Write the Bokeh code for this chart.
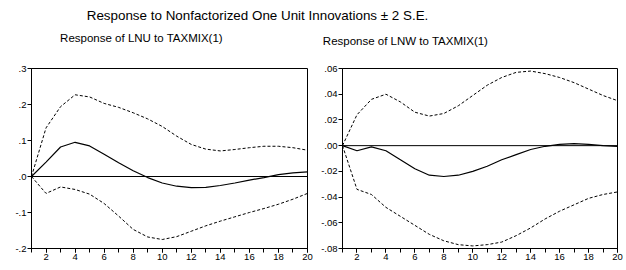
from bokeh.plotting import figure
from bokeh.layouts import column, row
from bokeh.models import Range1d, FixedTicker, Span
from bokeh.core.properties import value
from bokeh.embed import file_html
from bokeh.resources import INLINE

periods = list(range(1, 21))

lnu_resp = [0.0, 0.040, 0.082, 0.095, 0.085, 0.062, 0.038, 0.016, -0.003, -0.018,
            -0.027, -0.031, -0.030, -0.025, -0.018, -0.010, -0.003, 0.005, 0.010, 0.013]
lnu_upper = [0.0, 0.135, 0.194, 0.227, 0.221, 0.203, 0.192, 0.177, 0.160, 0.139,
             0.112, 0.089, 0.076, 0.071, 0.075, 0.080, 0.084, 0.084, 0.080, 0.073]
lnu_lower = [0.0, -0.047, -0.029, -0.036, -0.049, -0.075, -0.110, -0.147, -0.168, -0.175,
             -0.167, -0.152, -0.137, -0.124, -0.112, -0.100, -0.089, -0.077, -0.063, -0.047]

lnw_resp = [0.0, -0.004, -0.001, -0.004, -0.011, -0.018, -0.023, -0.024, -0.023, -0.020,
            -0.016, -0.011, -0.007, -0.003, -0.0005, 0.001, 0.0015, 0.001, 0.0, -0.0005]
lnw_upper = [0.0, 0.024, 0.036, 0.040, 0.034, 0.026, 0.023, 0.025, 0.031, 0.039,
             0.047, 0.053, 0.057, 0.058, 0.056, 0.053, 0.049, 0.044, 0.039, 0.035]
lnw_lower = [0.0, -0.034, -0.038, -0.048, -0.055, -0.062, -0.069, -0.074, -0.077, -0.078,
             -0.077, -0.075, -0.070, -0.064, -0.057, -0.051, -0.046, -0.041, -0.038, -0.036]

x_major_ticks = [2, 4, 6, 8, 10, 12, 14, 16, 18, 20]
lnu_ticks = [-0.2, -0.1, 0.0, 0.1, 0.2, 0.3]
lnu_tick_labels = ["-.2", "-.1", ".0", ".1", ".2", ".3"]
lnw_ticks = [-0.08, -0.06, -0.04, -0.02, 0.0, 0.02, 0.04, 0.06]
lnw_tick_labels = ["-.08", "-.06", "-.04", "-.02", ".00", ".02", ".04", ".06"]

main_title = "Response to Nonfactorized One Unit Innovations \u00b1 2 S.E."
left_title = "Response of LNU to TAXMIX(1)"
right_title = "Response of LNW to TAXMIX(1)"

FONT = "Liberation Sans"

# header with titles
hdr = figure(width=626, height=53, output_backend="svg", toolbar_location=None,
             x_range=Range1d(0, 626), y_range=Range1d(53, 0), min_border=0)
hdr.axis.visible = False
hdr.grid.visible = False
hdr.outline_line_color = None
hdr.text(x=[257], y=[15], text=[main_title], text_font=value(FONT), text_font_size="13.4px",
         text_align="center", text_baseline="middle", text_color="black")
hdr.text(x=[141, 405], y=[37, 40], text=[left_title, right_title], text_font=value(FONT),
         text_font_size="11.5px", text_align="center", text_baseline="middle", text_color="black")


def panel(resp, upper, lower, yr, yticks, ylabels, width, height, bl, bt, br, bb):
    p = figure(width=width, height=height, output_backend="svg", toolbar_location=None,
               x_range=Range1d(1, 20), y_range=Range1d(*yr),
               min_border_left=bl, min_border_top=bt, min_border_right=br, min_border_bottom=bb)
    p.grid.visible = False
    p.outline_line_color = "black"
    p.outline_line_width = 1
    p.add_layout(Span(location=0, dimension="width", line_color="black", line_width=1))
    p.line(periods, upper, line_color="black", line_width=1, line_dash="3 2")
    p.line(periods, lower, line_color="black", line_width=1, line_dash="3 2")
    p.line(periods, resp, line_color="black", line_width=1.2)

    p.xaxis.ticker = FixedTicker(ticks=x_major_ticks, minor_ticks=periods)
    p.yaxis.ticker = FixedTicker(ticks=yticks, minor_ticks=[])
    p.yaxis.major_label_overrides = {t: l for t, l in zip(yticks, ylabels)}
    for ax in (p.xaxis[0], p.yaxis[0]):
        ax.axis_line_color = "black"
        ax.major_tick_line_color = "black"
        ax.minor_tick_line_color = "black"
        ax.major_tick_in = 0
        ax.major_tick_out = 4
        ax.minor_tick_in = 0
        ax.minor_tick_out = 4
        ax.major_label_text_font = FONT
        ax.major_label_text_font_size = "9.5px"
        ax.major_label_text_color = "black"
        ax.major_label_standoff = 1
    return p


p1 = panel(lnu_resp, lnu_upper, lnu_lower, (-0.2, 0.3), lnu_ticks, lnu_tick_labels,
           width=313, height=217, bl=31, bt=12, br=6, bb=22)
p2 = panel(lnw_resp, lnw_upper, lnw_lower, (-0.08, 0.06), lnw_ticks, lnw_tick_labels,
           width=313, height=217, bl=29, bt=15, br=9, bb=18)

layout = column(hdr, row(p1, p2, spacing=0), spacing=0)
open("out.html", "w").write(file_html(layout, INLINE))
